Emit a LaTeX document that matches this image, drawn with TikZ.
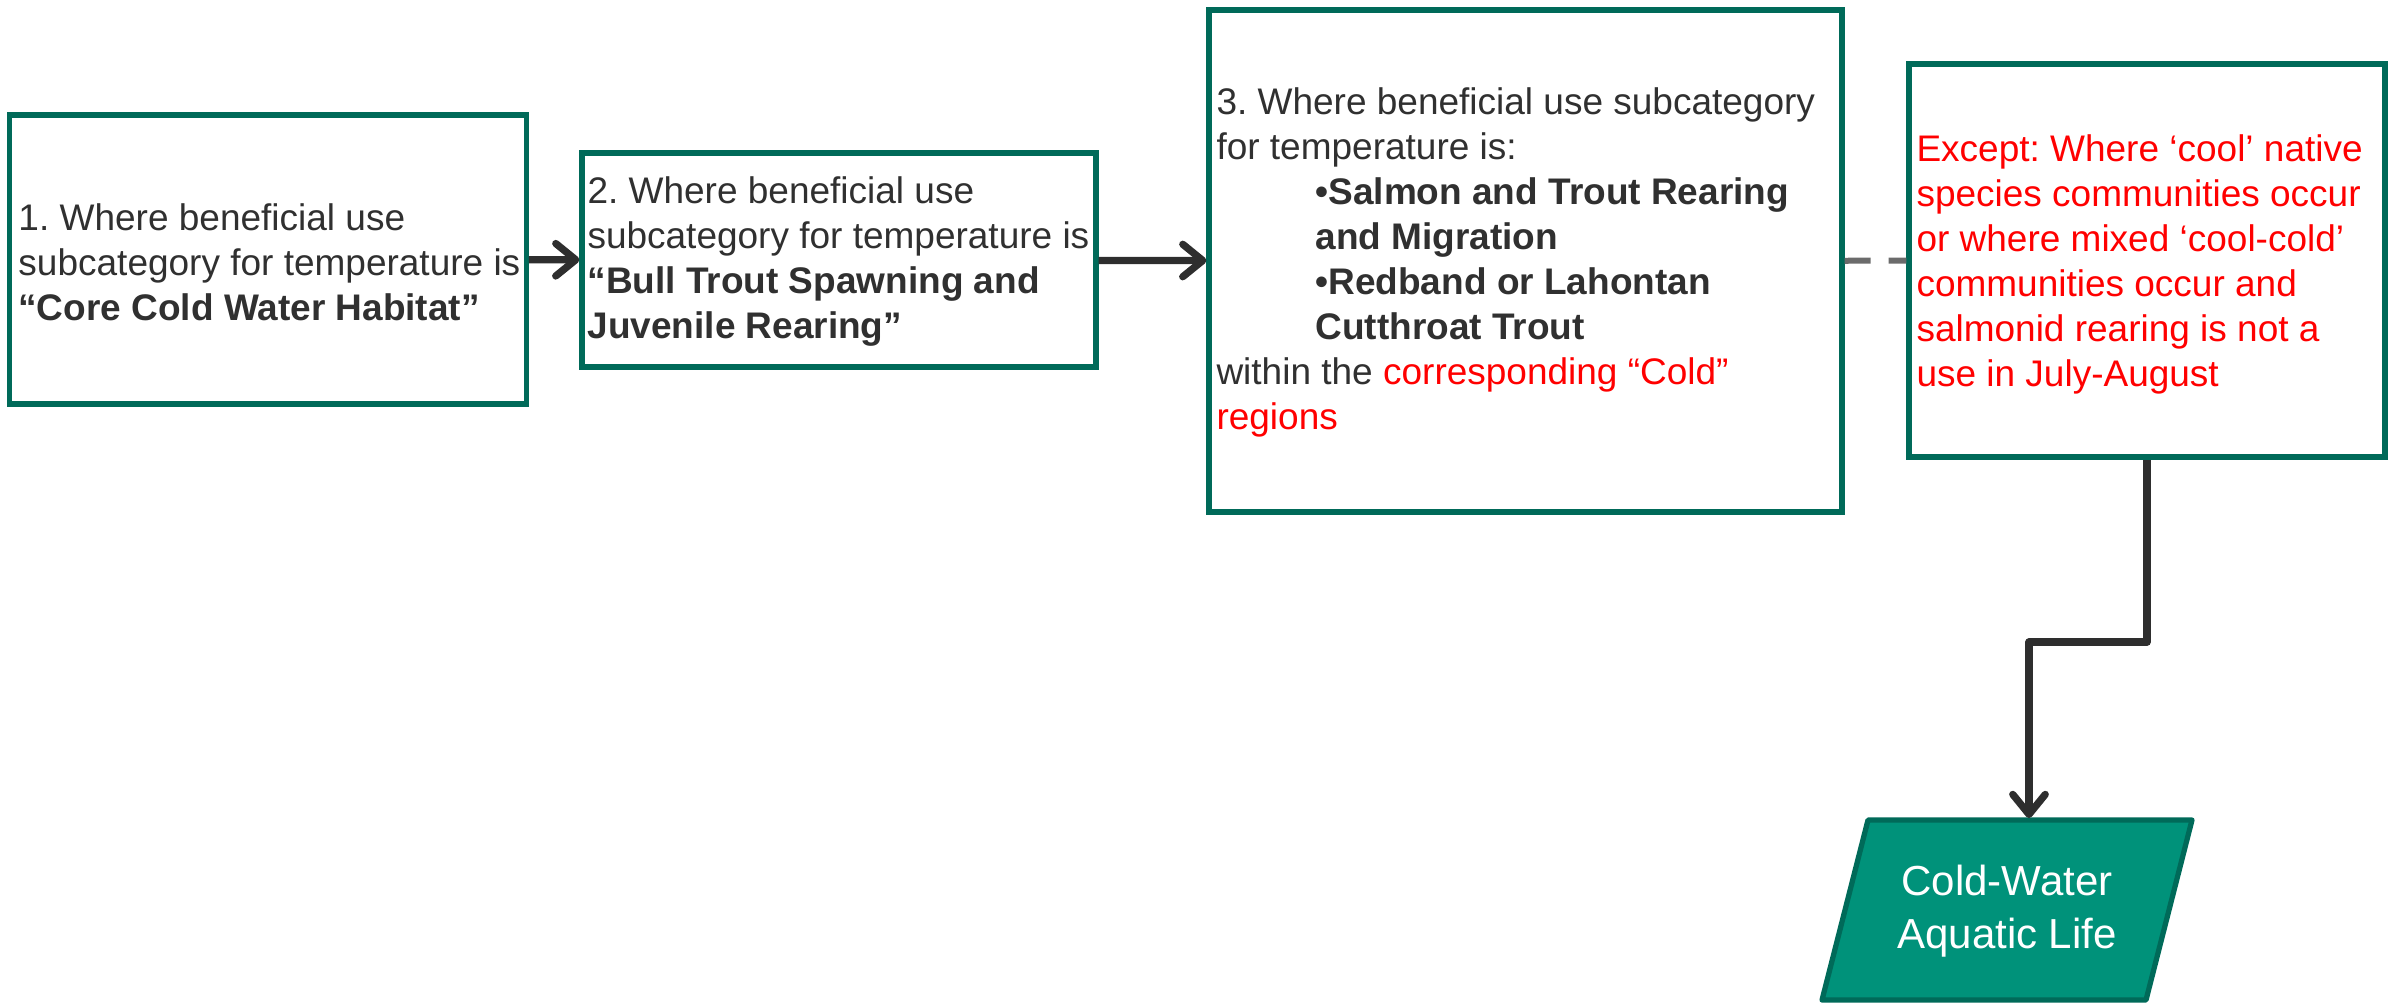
\documentclass[tikz,border=0pt]{standalone}
\usepackage{fontspec}
\setmainfont{Liberation Sans}
\frenchspacing
\usetikzlibrary{arrows.meta}
\definecolor{bordc}{RGB}{0,106,89}
\definecolor{fillc}{RGB}{0,146,122}
\definecolor{arrc}{RGB}{46,46,46}
\definecolor{dashc}{RGB}{107,107,107}
\definecolor{txtc}{RGB}{48,48,48}
\definecolor{redc}{RGB}{255,0,0}
\begin{document}
\begin{tikzpicture}[x=0.4pt,y=-0.4pt,
  box/.style={draw=bordc, line width=2.1pt, fill=white, inner sep=0pt},
  txt/.style={anchor=west, align=left, inner sep=0pt, text=txtc, font=\fontsize{14.8pt}{18pt}\selectfont},
  arr/.style={draw=arrc, line width=2.9pt, line join=round, -{Straight Barb[length=8pt,width=13pt,round]}},
  dashln/.style={draw=dashc, line width=2.4pt, dash pattern=on 10.4pt off 7.2pt},
  para/.style={draw=bordc, fill=fillc, line width=2.1pt, line join=round},
  paratxt/.style={align=center, inner sep=0pt, text=white, font=\fontsize{16.8pt}{21pt}\selectfont}
]
\useasboundingbox (0,0) rectangle (2392,1002);

% boxes
\node[box, minimum width=206.6pt, minimum height=115.6pt] (b1) at (268,259.5) {};
\node[box, minimum width=205.6pt, minimum height=85.6pt] (b2) at (839,260) {};
\node[box, minimum width=253.2pt, minimum height=200.8pt] (b3) at (1525.5,261) {};
\node[box, minimum width=190.4pt, minimum height=157.2pt] (b4) at (2147,260.5) {};

% texts
\node[txt] (t1) at (18,262) {1. Where beneficial use\\subcategory for temperature is\\\textbf{“Core Cold Water Habitat”}};
\node[txt] (t2) at (587,262) {2. Where beneficial use\\subcategory for temperature is\\\textbf{“Bull Trout Spawning and}\\\textbf{Juvenile Rearing”}};
\node[txt] (t3) at (1216,262) {3. Where beneficial use subcategory\\
for temperature is:\\
\hspace*{39.6pt}\textbf{•Salmon and Trout Rearing}\\
\hspace*{39.6pt}\textbf{and Migration}\\
\hspace*{39.6pt}\textbf{•Redband or Lahontan}\\
\hspace*{39.6pt}\textbf{Cutthroat Trout}\\
within the \textcolor{redc}{corresponding “Cold”}\\
\textcolor{redc}{regions}};
\node[txt, text=redc] (t4) at (1916,264) {Except: Where ‘cool’ native\\species communities occur\\or where mixed ‘cool-cold’\\communities occur and\\salmonid rearing is not a\\use in July-August};

% output parallelogram
\coordinate (pTL) at (1868,820);
\coordinate (pTR) at (2192,820);
\coordinate (pBR) at (2146,1000);
\coordinate (pBL) at (1822,1000);
\draw[para] (pTL) -- (pTR) -- (pBR) -- (pBL) -- cycle;
\node[paratxt] (cw) at (2007,911) {Cold-Water\\Aquatic Life};
\coordinate (cwtop) at (2029,818);
\coordinate (bend) at (2029,642);

% connectors
\draw[arr] (b1) -- (b2);
\draw[arr] (b2) -- (b3);
\draw[dashln] (b3) -- (b4);
\draw[arr] (b4.south) |- (bend) -- (cwtop);
\end{tikzpicture}
\end{document}
